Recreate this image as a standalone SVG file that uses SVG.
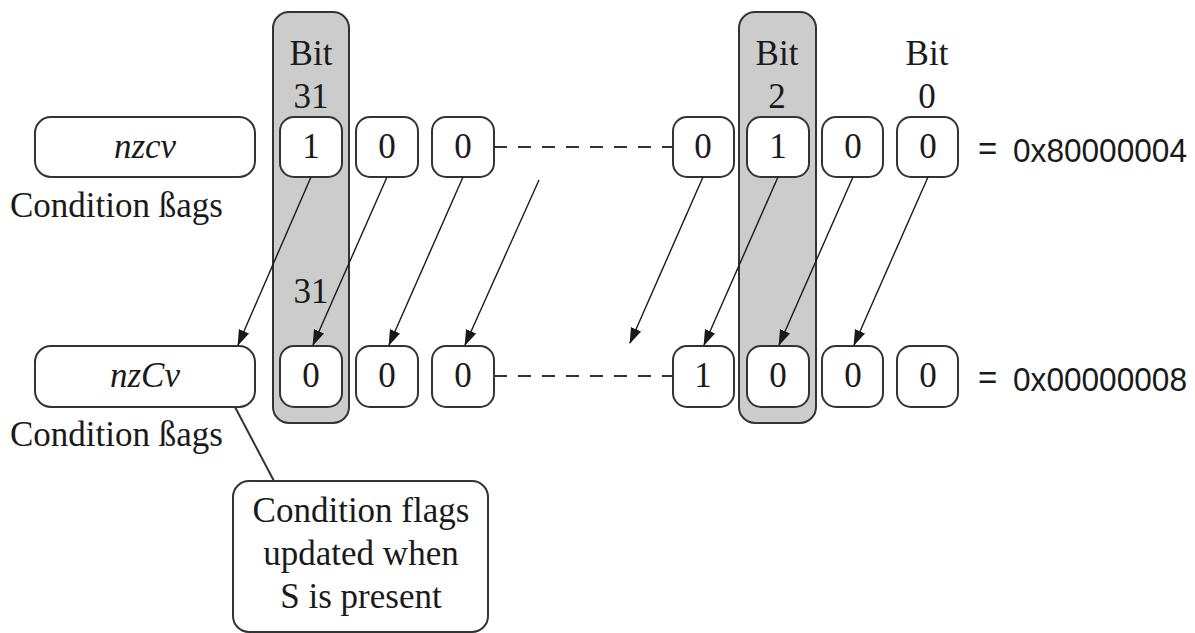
<svg xmlns="http://www.w3.org/2000/svg" width="1195" height="633" viewBox="0 0 1195 633">
<defs>
<marker id="ah" markerWidth="16" markerHeight="11" refX="15" refY="5.5" orient="auto" markerUnits="userSpaceOnUse">
<path d="M0,0 L16,5.5 L0,11 Z" fill="#1a1a1a"/>
</marker>
<style>
.col{fill:#cccccc;stroke:#333;stroke-width:2}
.box{fill:#fff;stroke:#333;stroke-width:2}
.t{font-family:"Liberation Serif","Times New Roman",serif;font-size:35px;fill:#1a1a1a;text-anchor:middle}
.it{font-style:italic}
.lt{text-anchor:start}
.hex{font-family:"Liberation Sans",Arial,sans-serif;font-size:33px;fill:#1a1a1a}
.dash{stroke:#333;stroke-width:2;stroke-dasharray:13 11;fill:none}
.arr{stroke:#1a1a1a;stroke-width:1.4;fill:none;marker-end:url(#ah)}
.ln{stroke:#333;stroke-width:2;fill:none}
</style>
</defs>
<rect width="1195" height="633" fill="#fff"/>

<g id="col31">
<rect class="col" x="273" y="12" width="76" height="411" rx="16"/>
<text class="t" x="311" y="65">Bit</text>
<text class="t" x="311" y="108">31</text>
<text class="t" x="311" y="303">31</text>
</g>
<g id="col2">
<rect class="col" x="739" y="12" width="77" height="411" rx="16"/>
<text class="t" x="777" y="65">Bit</text>
<text class="t" x="777" y="108">2</text>
</g>
<g id="bit0label">
<text class="t" x="927" y="65">Bit</text>
<text class="t" x="927" y="108">0</text>
</g>

<g id="nzcv">
<rect class="box" x="35" y="117" width="220" height="60" rx="16"/>
<text class="t it" x="145" y="158">nzcv</text>
<text class="t lt" x="10" y="217">Condition ßags</text>
</g>
<g id="nzCv">
<rect class="box" x="35" y="346" width="220" height="61" rx="16"/>
<text class="t it" x="145" y="387">nzCv</text>
<text class="t lt" x="10" y="446">Condition ßags</text>
</g>

<g id="top-bits">
<rect class="box" x="280" y="117" width="62" height="60" rx="14"/><text class="t" x="311" y="158">1</text>
<rect class="box" x="356" y="117" width="62" height="60" rx="14"/><text class="t" x="387" y="158">0</text>
<rect class="box" x="432" y="117" width="62" height="60" rx="14"/><text class="t" x="463" y="158">0</text>
<rect class="box" x="673" y="117" width="61" height="60" rx="14"/><text class="t" x="703" y="158">0</text>
<rect class="box" x="747" y="117" width="62" height="60" rx="14"/><text class="t" x="778" y="158">1</text>
<rect class="box" x="822" y="117" width="61" height="60" rx="14"/><text class="t" x="853" y="158">0</text>
<rect class="box" x="897" y="117" width="61" height="60" rx="14"/><text class="t" x="928" y="158">0</text>
<text class="hex" x="978" y="160">=</text>
<text class="hex" x="1013" y="162" textLength="174" lengthAdjust="spacingAndGlyphs">0x80000004</text>
</g>

<g id="bottom-bits">
<rect class="box" x="280" y="346" width="62" height="61" rx="14"/><text class="t" x="311" y="387">0</text>
<rect class="box" x="356" y="346" width="62" height="61" rx="14"/><text class="t" x="387" y="387">0</text>
<rect class="box" x="432" y="346" width="62" height="61" rx="14"/><text class="t" x="463" y="387">0</text>
<rect class="box" x="673" y="346" width="61" height="61" rx="14"/><text class="t" x="703" y="387">1</text>
<rect class="box" x="747" y="346" width="62" height="61" rx="14"/><text class="t" x="778" y="387">0</text>
<rect class="box" x="822" y="346" width="61" height="61" rx="14"/><text class="t" x="853" y="387">0</text>
<rect class="box" x="897" y="346" width="61" height="61" rx="14"/><text class="t" x="928" y="387">0</text>
<text class="hex" x="978" y="389">=</text>
<text class="hex" x="1013" y="391" textLength="174" lengthAdjust="spacingAndGlyphs">0x00000008</text>
</g>

<g id="callout">
<rect class="box" x="233" y="481" width="255" height="151" rx="16"/>
<text class="t" x="361" y="522">Condition flags</text>
<text class="t" x="361" y="565">updated when</text>
<text class="t" x="361" y="608">S is present</text>
</g>

<g id="connectors">
<line class="dash" x1="494" y1="147" x2="673" y2="147"/>
<line class="dash" x1="494" y1="376" x2="673" y2="376"/>
<line class="arr" x1="311" y1="177" x2="238" y2="345"/>
<line class="arr" x1="387" y1="177" x2="313" y2="345"/>
<line class="arr" x1="463" y1="177" x2="389" y2="345"/>
<line class="arr" x1="539" y1="180" x2="465" y2="345"/>
<line class="arr" x1="703" y1="177" x2="630" y2="343"/>
<line class="arr" x1="778" y1="177" x2="704" y2="345"/>
<line class="arr" x1="853" y1="177" x2="779" y2="345"/>
<line class="arr" x1="928" y1="177" x2="854" y2="345"/>
<line class="ln" x1="235" y1="407" x2="274" y2="481"/>
</g>
</svg>
